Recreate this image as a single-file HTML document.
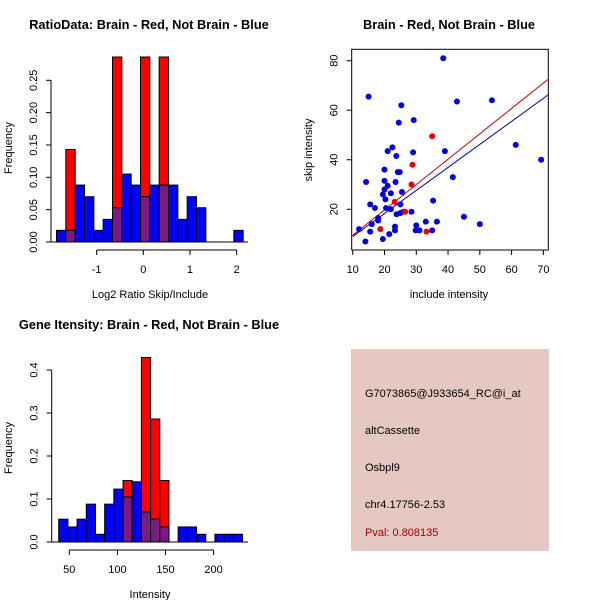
<!DOCTYPE html>
<html><head><meta charset="utf-8"><style>
body{margin:0;background:#fff}
svg{display:block;font-family:"Liberation Sans",sans-serif}
</style></head><body>
<svg id="chart" width="600" height="600" viewBox="0 0 600 600">
<rect width="600" height="600" fill="#fff"/>
<g id="p1"></g>
<g id="p2"></g>
<g id="p3"></g>
<g id="p4">
<rect x="351" y="349" width="198" height="202" fill="#e6c8c2"/>
<text x="365" y="397" font-size="11">G7073865@J933654_RC@i_at</text>
<text x="365" y="434" font-size="11">altCassette</text>
<text x="365" y="471" font-size="11">Osbpl9</text>
<text x="365" y="508" font-size="11">chr4.17756-2.53</text>
<text x="365" y="536" font-size="11" fill="#a00000">Pval: 0.808135</text>
</g>
</svg>
<script>
// ---- Plot 1 data ----
const h1BinStart = -1.86, h1BinWidth = 0.2;
const h1Blue = [0.018,0.018,0.088,0.070,0.018,0.035,0.053,0.105,0.088,0.070,0.088,0.088,0.088,0.035,0.070,0.053,0,0,0,0.018];
const h1Red  = [0,0.143,0,0,0,0,0.286,0,0,0.286,0,0.286,0,0,0,0,0,0,0,0];
const h1XTicks = [-1,0,1,2];
const h1YTicks = [0,0.05,0.10,0.15,0.20,0.25];
const h1YLabels = ["0.00","0.05","0.10","0.15","0.20","0.25"];
// ---- Plot 2 data ----
const blueX = [12,14,14.2,15,15.5,15.5,16,17,18,18,19.5,19.5,20,20,20,20.3,20.5,21,21,21.5,22,22,22.5,23.3,23.3,23.5,23.7,23.8,24.2,24.5,24.8,25,25,25.3,25.5,26,28.5,29,29.2,29.8,30,31,33,35,35.3,36.5,38.5,39,41.5,42.8,45,50,53.8,61.3,69.3];
const blueY = [12,7,31,65.5,22,11,14,20.5,15.5,16.5,8,26,28,31.5,36,24,20.5,29.5,43.5,10,20,26.5,45,13,11.5,31,41.5,18,35,55,35,18.5,22,62,27,19,19,43,56,11.5,13.5,11.5,15,11.5,23.5,15,81,43.5,33,63.5,17,14,64,46,40];
const redX = [18.7,23.2,26.5,28.5,28.8,33.2,35];
const redY = [12,23,19,30,38,11,49.5];
const redFit = [[10,9.5],[71.5,72.5]];
const blueFit = [[10,9],[71.5,66.2]];
const p2XTicks = [10,20,30,40,50,60,70];
const p2YTicks = [20,40,60,80];
// ---- Plot 3 data ----
const h3BinStart = 39, h3BinWidth = 9.55;
const h3Blue = [0.053,0.035,0.053,0.088,0.018,0.088,0.123,0.105,0.14,0.07,0.053,0.035,0,0.035,0.035,0.018,0,0.018,0.018,0.018];
const h3Red  = [0,0,0,0,0,0,0,0.143,0,0.429,0.286,0.143,0,0,0,0,0,0,0,0];
const h3XTicks = [50,100,150,200];
const h3YTicks = [0,0.1,0.2,0.3,0.4];
const h3YLabels = ["0.0","0.1","0.2","0.3","0.4"];

const NS="http://www.w3.org/2000/svg";
function mk(parent,tag,attrs,text){const e=document.createElementNS(NS,tag);for(const k in attrs)e.setAttribute(k,attrs[k]);if(text!==undefined)e.textContent=text;parent.appendChild(e);return e;}

function hist(g,o){
  const sx=v=>o.x0px+(v-o.x0)*o.kx, sy=v=>o.y0px-v*o.ky;
  for(let i=0;i<o.blue.length;i++){
    const a=sx(o.bs+i*o.bw), b=sx(o.bs+(i+1)*o.bw);
    const r=o.red[i], bl=o.blue[i];
    if(r>0){const e=mk(g,'rect',{x:a,y:sy(r),width:b-a,height:sy(0)-sy(r),fill:'#ff0000',stroke:'#000','stroke-width':1});
      
      }
    if(bl>0){const e=mk(g,'rect',{x:a,y:sy(bl),width:b-a,height:sy(0)-sy(bl),fill:r>0?'none':'#0000ff',stroke:'#000','stroke-width':1});
      
      }
    if(r>0&&bl>0){const m=Math.min(r,bl);const e=mk(g,'rect',{x:a,y:sy(m),width:b-a,height:sy(0)-sy(m),fill:'#7a1a82',stroke:'#000','stroke-width':1});
      
      
      if(bl>r){const e2=mk(g,'rect',{x:a,y:sy(bl),width:b-a,height:sy(r)-sy(bl),fill:'#0000ff',stroke:'#000','stroke-width':1});
        
        }}
  }
  mk(g,'line',{x1:o.yAxisX,x2:o.baseEnd,y1:sy(0),y2:sy(0),stroke:'#000'});
  mk(g,'line',{x1:o.yAxisX,x2:o.yAxisX,y1:sy(o.yt[0]),y2:sy(o.yt[o.yt.length-1]),stroke:'#000'});
  o.yt.forEach((v,i)=>{mk(g,'line',{x1:o.yAxisX-5,x2:o.yAxisX,y1:sy(v),y2:sy(v),stroke:'#000'});
    const t=mk(g,'text',{x:0,y:0,transform:`translate(${o.yAxisX-14},${sy(v)}) rotate(-90)`,'text-anchor':'middle','font-size':11},o.yl[i]);
    
    });
  const ax=o.xAxisY;
  mk(g,'line',{x1:sx(o.xt[0]),x2:sx(o.xt[o.xt.length-1]),y1:ax,y2:ax,stroke:'#000'});
  o.xt.forEach(v=>{mk(g,'line',{x1:sx(v),x2:sx(v),y1:ax,y2:ax+5,stroke:'#000'});
    const t=mk(g,'text',{x:sx(v),y:ax+23,'text-anchor':'middle','font-size':11},String(v));
    
    });
}

// Plot 1
const g1=document.getElementById('p1');
hist(g1,{x0:0,x0px:143.3,kx:46.67,y0px:242,ky:646.8,bs:h1BinStart,bw:h1BinWidth,blue:h1Blue,red:h1Red,yt:h1YTicks,yl:h1YLabels,xt:h1XTicks,yAxisX:51,baseEnd:248,xAxisY:250});
mk(g1,'text',{x:149,y:29,'text-anchor':'middle','font-size':12.8,'font-weight':'bold'},'RatioData: Brain - Red, Not Brain - Blue');
mk(g1,'text',{x:150,y:298,'text-anchor':'middle','font-size':11},'Log2 Ratio Skip/Include');
mk(g1,'text',{x:0,y:0,transform:'translate(12,148) rotate(-90)','text-anchor':'middle','font-size':11},'Frequency');

// Plot 2
const g2=document.getElementById('p2');
const sx2=v=>352.7+(v-10)*3.178, sy2=v=>209.3-(v-20)*2.477;
mk(g2,'rect',{x:351.7,y:49.3,width:196.6,height:200.7,fill:'none',stroke:'#000'});
mk(g2,'clipPath',{id:'c2'});
mk(document.getElementById('c2'),'rect',{x:351.7,y:49.3,width:196.6,height:200.7});
const lg=mk(g2,'g',{'clip-path':'url(#c2)'});
[[redFit,'#cc0000','red-fit-line'],[blueFit,'#0000aa','blue-fit-line']].forEach(([f,c,n])=>{
  const e=mk(lg,'line',{x1:sx2(f[0][0]),y1:sy2(f[0][1]),x2:sx2(f[1][0]),y2:sy2(f[1][1]),stroke:c,'stroke-width':1});
  
  });
blueX.forEach((x,i)=>{const e=mk(g2,'circle',{cx:sx2(x),cy:sy2(blueY[i]),r:3,fill:'#0000dd'});
  
  });
redX.forEach((x,i)=>{const e=mk(g2,'circle',{cx:sx2(x),cy:sy2(redY[i]),r:3,fill:'#ee0000'});
  
  });
p2XTicks.forEach(v=>{mk(g2,'line',{x1:sx2(v),x2:sx2(v),y1:250,y2:255,stroke:'#000'});
  const t=mk(g2,'text',{x:sx2(v),y:273,'text-anchor':'middle','font-size':11},String(v));
  
  });
p2YTicks.forEach(v=>{mk(g2,'line',{x1:346.7,x2:351.7,y1:sy2(v),y2:sy2(v),stroke:'#000'});
  const t=mk(g2,'text',{x:0,y:0,transform:`translate(337.7,${sy2(v)}) rotate(-90)`,'text-anchor':'middle','font-size':11},String(v));
  
  });
mk(g2,'text',{x:449,y:29,'text-anchor':'middle','font-size':12.8,'font-weight':'bold'},'Brain - Red, Not Brain - Blue');
mk(g2,'text',{x:449,y:298,'text-anchor':'middle','font-size':11},'include intensity');
mk(g2,'text',{x:0,y:0,transform:'translate(312,150) rotate(-90)','text-anchor':'middle','font-size':11},'skip intensity');

// Plot 3
const g3=document.getElementById('p3');
hist(g3,{x0:50,x0px:69.3,kx:0.962,y0px:542,ky:430,bs:h3BinStart,bw:h3BinWidth,blue:h3Blue,red:h3Red,yt:h3YTicks,yl:h3YLabels,xt:h3XTicks,yAxisX:51.7,baseEnd:248,xAxisY:550});
mk(g3,'text',{x:149,y:329,'text-anchor':'middle','font-size':12.8,'font-weight':'bold'},'Gene Itensity: Brain - Red, Not Brain - Blue');
mk(g3,'text',{x:150,y:598,'text-anchor':'middle','font-size':11},'Intensity');
mk(g3,'text',{x:0,y:0,transform:'translate(12,448) rotate(-90)','text-anchor':'middle','font-size':11},'Frequency');
</script>
</body></html>
